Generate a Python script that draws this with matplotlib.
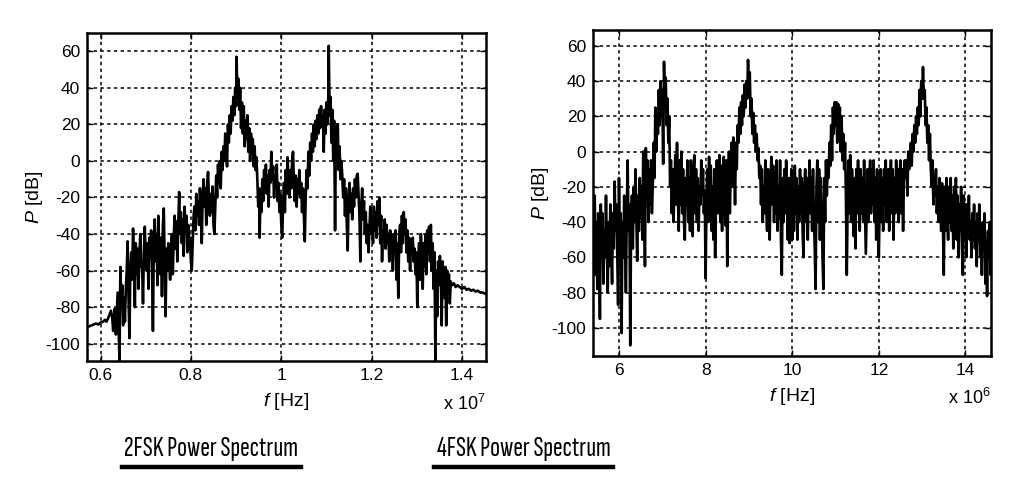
import numpy as np
import matplotlib
matplotlib.use("Agg")
import matplotlib.pyplot as plt
from matplotlib.lines import Line2D

plt.rcParams['font.family'] = ['Liberation Sans', 'DejaVu Sans']
plt.rcParams['axes.unicode_minus'] = False
plt.rcParams['mathtext.fontset'] = 'custom'
plt.rcParams['mathtext.rm'] = 'Liberation Sans'
plt.rcParams['mathtext.it'] = 'Liberation Sans:italic'

# 2FSK: frecuencia (x 1e7 Hz), potencia (dB)
datos_2fsk = [
    (0.570, -91), (0.575, -90.5), (0.580, -90), (0.585, -89.5), (0.590, -89), (0.595, -89.5),
    (0.600, -88.5), (0.605, -88), (0.610, -87), (0.613, -88), (0.617, -86), (0.620, -84),
    (0.623, -82), (0.626, -86),
    (0.628, -93), (0.631, -81), (0.634, -95), (0.636, -84), (0.638, -72), (0.640, -92),
    (0.642, -110), (0.644, -58), (0.646, -80), (0.648, -68), (0.650, -90), (0.652, -75),
    (0.654, -88), (0.656, -70), (0.658, -60), (0.660, -44), (0.662, -75), (0.664, -97),
    (0.666, -60), (0.668, -50),
    (0.670, -65), (0.672, -37), (0.674, -55), (0.676, -80), (0.678, -45), (0.680, -62),
    (0.682, -48), (0.684, -70), (0.686, -52), (0.688, -40), (0.690, -58), (0.692, -56),
    (0.694, -78), (0.696, -50), (0.698, -36), (0.700, -55), (0.702, -60), (0.704, -45),
    (0.706, -70), (0.708, -42), (0.710, -52), (0.712, -38), (0.714, -60), (0.716, -93),
    (0.718, -45), (0.720, -32), (0.722, -55), (0.724, -40), (0.726, -68), (0.728, -30),
    (0.730, -50), (0.732, -62), (0.734, -42), (0.736, -74), (0.738, -35), (0.740, -26),
    (0.742, -55), (0.744, -85), (0.746, -48), (0.748, -60), (0.750, -45), (0.752, -55),
    (0.754, -65), (0.756, -50), (0.758, -40), (0.760, -62), (0.762, -42), (0.764, -30),
    (0.766, -48), (0.768, -33), (0.770, -55), (0.772, -37), (0.774, -17), (0.776, -40),
    (0.778, -28), (0.780, -45), (0.782, -32), (0.784, -52), (0.786, -25), (0.788, -38),
    (0.790, -30), (0.792, -50), (0.794, -35), (0.796, -48), (0.798, -42), (0.800, -55),
    (0.802, -60), (0.804, -45),
    (0.806, -30), (0.808, -25), (0.810, -38), (0.812, -18), (0.814, -30), (0.816, -22),
    (0.818, -35), (0.820, -15), (0.822, -28), (0.824, -45), (0.826, -20), (0.828, -10),
    (0.830, -25), (0.832, -15), (0.834, -35), (0.836, -12), (0.838, -6), (0.840, -22),
    (0.842, -30), (0.844, -18), (0.846, -28), (0.848, -14), (0.850, -35), (0.852, -40),
    (0.854, -25), (0.856, -8), (0.858, -20), (0.860, -2), (0.862, -12), (0.864, 0),
    (0.866, -15), (0.868, 5),
    (0.870, -5), (0.872, 8), (0.874, 0), (0.876, 15), (0.878, 5), (0.880, -3), (0.882, 20),
    (0.884, 10), (0.886, 25), (0.888, 15), (0.890, 30), (0.892, 22), (0.894, 35), (0.896, 25),
    (0.898, 40), (0.900, 30), (0.901, 57), (0.903, 35), (0.905, 45), (0.907, 28), (0.909, 40),
    (0.911, 18), (0.913, 32), (0.915, 15), (0.917, 30), (0.919, 8), (0.921, 22), (0.923, 12),
    (0.925, 25), (0.927, 5), (0.929, 18), (0.931, 0), (0.933, 15), (0.935, 5), (0.937, 12),
    (0.939, -3), (0.941, 8), (0.943, -5), (0.945, 2), (0.947, -10), (0.949, -25), (0.951, -15),
    (0.952, -42), (0.954, -20), (0.956, -28),
    (0.958, -10), (0.960, -22), (0.962, -5), (0.964, -15), (0.966, -2), (0.968, -18),
    (0.970, -8), (0.972, -25), (0.974, -5), (0.976, -12), (0.978, 5), (0.980, -10),
    (0.982, -3), (0.984, -20), (0.986, -8), (0.988, -15), (0.990, -2), (0.992, -22),
    (0.994, -12), (0.996, -28), (0.998, -18), (1.000, -35), (1.002, -42), (1.004, -25),
    (1.006, -12), (1.008, -28), (1.010, -5), (1.012, -18), (1.014, 2), (1.016, -12),
    (1.018, -20), (1.020, -5), (1.022, -15), (1.024, 0), (1.026, 5), (1.028, -12),
    (1.030, -22), (1.032, -8), (1.034, -25), (1.036, -10), (1.038, -18), (1.040, -5),
    (1.042, -20), (1.044, -12), (1.046, -28), (1.048, -15), (1.050, -30), (1.052, -44),
    (1.054, -20),
    (1.056, -5), (1.058, -15), (1.060, 5), (1.062, -8), (1.064, 10), (1.066, 0), (1.068, 15),
    (1.070, 5), (1.072, 20), (1.074, 8), (1.076, 22), (1.078, 12), (1.080, 25), (1.082, 15),
    (1.084, 28), (1.086, 18), (1.088, 30), (1.090, 20), (1.092, 25), (1.094, 5), (1.096, 28),
    (1.098, 15), (1.100, 32), (1.102, 20), (1.104, 35), (1.105, 63), (1.107, 25), (1.109, 35),
    (1.111, 10), (1.113, 28), (1.115, 0), (1.117, 22), (1.119, -38), (1.121, 18), (1.123, 5),
    (1.125, 20), (1.127, -5), (1.129, 8), (1.131, -10), (1.133, 0), (1.135, -8), (1.137, -20),
    (1.139, -10), (1.141, -30), (1.143, -15), (1.145, -35), (1.147, -49), (1.149, -20),
    (1.151, -12), (1.153, -28), (1.155, -18), (1.157, -32), (1.159, -15), (1.161, -25),
    (1.163, -10), (1.165, -20), (1.167, -8), (1.169, -7), (1.171, -18), (1.173, -30),
    (1.175, -55), (1.177, -25), (1.179, -15), (1.181, -32), (1.183, -22), (1.185, -40),
    (1.187, -28), (1.189, -45), (1.191, -35), (1.193, -50), (1.195, -38), (1.197, -25),
    (1.199, -40), (1.201, -30), (1.203, -45), (1.205, -25), (1.207, -38), (1.209, -28),
    (1.211, -42), (1.213, -22), (1.215, -35), (1.217, -20), (1.219, -45), (1.221, -30),
    (1.223, -55), (1.225, -38), (1.227, -42), (1.229, -32), (1.231, -48), (1.233, -35),
    (1.235, -45), (1.237, -40), (1.239, -55), (1.241, -38), (1.243, -50), (1.245, -42),
    (1.247, -60), (1.249, -40), (1.251, -48), (1.253, -38), (1.255, -65), (1.257, -45),
    (1.259, -75), (1.261, -40), (1.263, -35), (1.265, -50), (1.267, -30), (1.269, -45),
    (1.271, -28), (1.273, -40), (1.275, -32), (1.277, -50), (1.279, -38), (1.281, -55),
    (1.283, -42), (1.285, -60), (1.287, -45), (1.289, -50), (1.291, -42), (1.293, -55),
    (1.295, -48), (1.297, -62),
    (1.299, -50), (1.301, -80), (1.303, -55), (1.305, -45), (1.307, -65), (1.309, -40),
    (1.311, -55), (1.313, -70), (1.315, -45), (1.317, -58), (1.319, -40), (1.321, -62),
    (1.323, -38), (1.325, -50), (1.327, -36), (1.329, -55), (1.331, -35), (1.333, -60),
    (1.335, -45), (1.337, -70), (1.339, -50), (1.341, -110), (1.343, -60), (1.345, -85),
    (1.347, -55), (1.349, -68), (1.351, -52), (1.353, -62), (1.355, -90), (1.357, -55),
    (1.359, -65), (1.361, -75), (1.363, -58), (1.365, -90), (1.367, -60), (1.369, -72),
    (1.371, -62), (1.373, -78), (1.375, -66),
    (1.378, -68), (1.382, -67), (1.386, -69), (1.390, -68), (1.395, -69), (1.400, -70),
    (1.405, -69), (1.410, -70.5), (1.415, -70), (1.420, -71), (1.425, -70.5), (1.430, -71.5),
    (1.435, -71), (1.440, -72), (1.445, -72), (1.450, -72.5),
]

# 4FSK: potencia (dB) cada 0.02 x 1e6 Hz, de 5.40 a 14.60
f4_inicio = [5.40]
f4_paso = [0.02]
p_4fsk = [
    -30, -65, -25, -70, -40, -78, -35, -60, -95, -30, -55, -35, -75, -45, -60, -25, -55, -80,
    -40, -65, -30, -50, -75, -35, -55, -17, -45, -30, -60, -87, -15, -55, -35, -103, -40, -60,
    -25, -50, -80, -35, -5, -45, -30, -110, -40, -25, -55, -20, -40, -10, -35, -62, -25, -45,
    -15, -38, -20, -50, 0, -30, -65, 2, -25, -5, -40, -10, -30, -5, -35, -20, 5, -15,
    25, 0, 20, 10, 35, 15, 40, 20, 35, -7, 51, 25, 42, 15, 30, 5, 20, -20,
    -5, -35, -10, -40, -20, -2, -30, 5, -25, -45, -5, -30, 0, -35, -10, -40, -50, -15,
    -30, -5, -40, -15, -45, -5, -30, -48, -10, -2, -35, -10, -40, -15, -45, -20, -30, -5,
    -25, -10, -35, -22, -72, -30, -10, -40, -3, -25, -8, -45, -20, -50, -10, -60, -30, -5,
    -35, -12, -2, -40, -8, -45, -15, -3, -30, -42, -5, -65, -25, 0, -35, -10, 5, -20,
    8, -5, -30, 5, -10, 15, 5, 25, 10, 28, 15, 32, 20, 38, 25, 40, 30, 52,
    35, 45, 20, 30, 10, 22, 5, 15, 0, 10, -5, 2, -15, -8, -30, -10, -40, -20,
    -35, -5, -30, -45, -10, -35, -50, -15, -3, -30, -8, -40, -12, -35, -5, -45, -20, -38,
    -5, -50, -70, -15, -40, -10, -35, -5, -30, -50, -15, -52, -35, -10, -50, -20, -45, -8,
    -35, -15, -50, -20, -40, -10, -35, -15, -45, -60, -20, -10, -40, -15, -50, -22, -5, -35,
    -15, -45, -10, -35, -55, -78, -20, -5, -40, -10, -50, -15, -35, -60, -78, -15, -40, -5,
    -25, -5, -15, 5, -8, 15, -5, 25, 10, 28, 15, 28, 5, 27, 10, 25, 0, 20,
    -5, 10, -10, 5, -25, -70, -30, -5, -35, -2, -40, -10, -30, -48, -15, -55, -10, -35,
    -5, -30, -45, -10, -35, -15, -40, -5, -30, -58, -35, -10, -40, -15, -5, -35, -10, -30,
    -5, -40, -15, -50, -10, -35, -60, -30, -10, -40, -15, -45, -10, -30, -5, -40, -15, -10,
    -45, -20, -5, -35, -10, -50, -15, -35, -5, -30, -10, -40, -15, -5, -35, -10, -45, -15,
    -5, -15, -5, -25, 0, -10, -5, 5, -8, 10, 0, 15, 5, 20, 10, 25, 15, 35,
    20, 40, 30, 48, 30, 35, 15, 25, 5, 15, -5, 10, -10, -20, -5, -30, -15, -25,
    -10, -35, -20, -40, -15, -30, -45, -18, -40, -70, -20, -45, -15, -35, -50, -20, -40, -15,
    -45, -25, -55, -20, -40, -15, -50, -25, -60, -30, -45, -20, -55, -70, -25, -50, -30, -60,
    -30, -45, -25, -50, -40, -60, -35, -50, -30, -55, -40, -65, -35, -50, -30, -60, -45, -70,
    -40, -55, -35, -75, -50, -82, -45, -60, -40, -70, -50,
]

xticks_2fsk = [0.6, 0.8, 1.0, 1.2, 1.4]
xlabels_2fsk = ['0.6', '0.8', '1', '1.2', '1.4']
xticks_4fsk = [6, 8, 10, 12, 14]
yticks = [-100, -80, -60, -40, -20, 0, 20, 40, 60]

f2 = np.array([d[0] for d in datos_2fsk])
p2 = np.array([d[1] for d in datos_2fsk])
f4 = f4_inicio[0] + f4_paso[0] * np.arange(len(p_4fsk))
p4 = np.array(p_4fsk)

fig = plt.figure(figsize=(10.34, 4.93), dpi=100)
ax1 = fig.add_axes([0.0841, 0.2677, 0.3859, 0.6653])
ax2 = fig.add_axes([0.5735, 0.2779, 0.3849, 0.6613])

grid_kw = dict(color='black', linestyle=(0, (2.2, 2.2)), linewidth=1.1)

for ax in (ax1, ax2):
    ax.grid(True, **grid_kw)
    ax.set_axisbelow(True)
    for s in ax.spines.values():
        s.set_linewidth(1.8)
    ax.tick_params(direction='in', length=4, width=1, labelsize=12.5, pad=5,
                   top=True, right=True)

ax1.plot(f2, p2, color='black', lw=1.9)
ax1.set_xlim(0.57, 1.453)
ax1.set_ylim(-109.5, 70)
ax1.set_xticks(xticks_2fsk)
ax1.set_xticklabels(xlabels_2fsk)
ax1.set_yticks(yticks)
ax1.set_xlabel('$\\it{f}$ [Hz]', fontsize=14, labelpad=6)
ax1.set_ylabel('$\\it{P}$ [dB]', fontsize=14, labelpad=0)
ax1.text(1.0, -0.1, 'x 10$^7$', transform=ax1.transAxes, ha='right', va='top', fontsize=13)

ax2.plot(f4, p4, color='black', lw=1.9)
ax2.set_xlim(5.4, 14.59)
ax2.set_ylim(-116, 69)
ax2.set_xticks(xticks_4fsk)
ax2.set_yticks(yticks)
ax2.set_xlabel('$\\it{f}$ [Hz]', fontsize=14, labelpad=6)
ax2.set_ylabel('$\\it{P}$ [dB]', fontsize=14, labelpad=0)
ax2.text(1.0, -0.097, 'x 10$^6$', transform=ax2.transAxes, ha='right', va='top', fontsize=13)

# titulos subrayados, fuente estrecha ajustada al ancho
fam_titulo = ['Sofia Sans Extra Condensed', 'Pragati Narrow', 'Liberation Sans']
titulos = []
for cx, txt in ((211.5, '2FSK Power Spectrum'), (523.5, '4FSK Power Spectrum')):
    titulos.append(fig.text(cx / 1034, 1 - 449 / 493, txt, ha='center', va='center',
                            fontsize=20, family=fam_titulo, fontweight='normal'))
fig.canvas.draw()
r = fig.canvas.get_renderer()
for t in titulos:
    w = t.get_window_extent(r).width
    t.set_fontsize(20 * 174 / w)
fig.add_artist(Line2D([122 / 1034, 301 / 1034], [1 - 467 / 493] * 2, color='black', lw=3.2))
fig.add_artist(Line2D([434 / 1034, 613 / 1034], [1 - 467 / 493] * 2, color='black', lw=3.2))

fig.savefig('out.png', dpi=100)
